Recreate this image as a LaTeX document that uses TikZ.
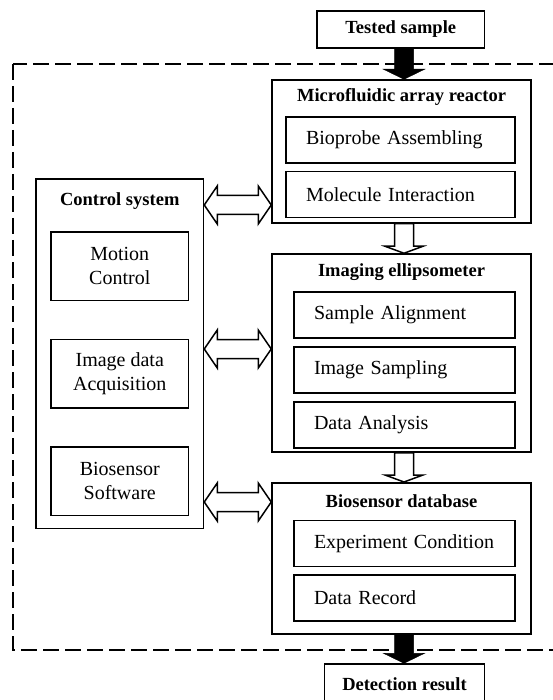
\documentclass[tikz,border=0pt]{standalone}
\usepackage{fontspec}
\setmainfont{Liberation Serif}
\usetikzlibrary{positioning, calc}

\begin{document}
\begin{tikzpicture}[
                x=1pt, y=1pt,
                font=\fontsize{20}{24}\selectfont,
                box/.style={draw, line width=1.5pt, inner sep=0pt},
                outer_box/.style={box, minimum width=259pt},
                sub_box/.style={box, text width=#1, inner xsep=20pt, minimum height=46pt, align=left},
                sub_box/.default=181pt,
                ctrl_box/.style={box, minimum width=137.5pt, minimum height=68.5pt, align=center},
                title_text/.style={font=\bfseries\fontsize{18.5}{22}\selectfont},
                hollow_arrow/.style={draw, fill=white, line width=1.5pt},
                black_arrow/.style={draw, fill=black, line width=0.5pt}
            ]
                \useasboundingbox (0,0) rectangle (553,-700);
                \clip (0,0) rectangle (553,-700);

                % Dashed system frame (right side runs off the page)
                \draw[line width=1.4pt, dash pattern=on 16pt off 6pt] (13,-64) rectangle (600,-650);

                % Input and output
                \node[box, title_text, minimum width=167.5pt, minimum height=37pt] (sample) at (400.7,-29.5) {Tested sample};
                \node[box, title_text, minimum width=160pt, minimum height=40pt] (result) at (404.5,-684) {Detection result};

                % Microfluidic array reactor
                \node[outer_box, minimum height=143pt] (reactor) at (401.5,-151.5) {};
                \node[title_text] at ([yshift=-18pt]reactor.north) {Microfluidic array reactor};
                \node[sub_box=189pt] (bioprobe) at (400.5,-140) {Bioprobe Assembling};
                \node[sub_box=189pt, below=7pt of bioprobe] (molecule) {Molecule Interaction};

                % Imaging ellipsometer
                \node[outer_box, minimum height=198pt] (ellip) at (401.5,-353) {};
                \node[title_text] at ([yshift=-19pt]ellip.north) {Imaging ellipsometer};
                \node[sub_box] (align) at (404.5,-315) {Sample Alignment};
                \node[sub_box, below=7.5pt of align] (imgsamp) {Image Sampling};
                \node[sub_box, below=7.5pt of imgsamp] (analysis) {Data Analysis};

                % Biosensor database
                \node[outer_box, minimum height=151.3pt] (dbase) at (401.5,-558.4) {};
                \node[title_text] at ([yshift=-19pt]dbase.north) {Biosensor database};
                \node[sub_box] (cond) at (404.5,-543.4) {Experiment Condition};
                \node[sub_box, below=7pt of cond] (record) {Data Record};

                % Control system
                \node[box, minimum width=167.5pt, minimum height=349.3pt] (ctrl) at (119.75,-353.6) {};
                \node[title_text] at ([yshift=-22.7pt]ctrl.north) {Control system};
                \node[ctrl_box] (motion) at (119.75,-266.2) {Motion\\Control};
                \node[ctrl_box, below=37.5pt of motion] (imgacq) {Image data\\Acquisition};
                \node[ctrl_box, below=37.5pt of imgacq] (software) {Biosensor\\Software};

                % Flow axis of the right column
                \coordinate (axis) at (404,0);

                % Solid arrows in and out
                \foreach \from/\to in {sample/reactor, dbase/result} {
                    \draw[black_arrow] ($(axis |- \from.south)+(-9.5,0)$) -- ($(axis |- \to.north)+(-9.5,10)$)
                        -- ++(-11,0) -- (axis |- \to.north) -- ++(20.5,10) -- ++(-11,0)
                        -- ($(axis |- \from.south)+(9.5,0)$) -- cycle;
                }

                % Hollow arrows down the column
                \foreach \from/\to in {reactor/ellip, ellip/dbase} {
                    \draw[hollow_arrow] ($(axis |- \from.south)+(-9.5,0)$) -- ($(axis |- \to.north)+(-9.5,7)$)
                        -- ++(-9.5,0) -- (axis |- \to.north) -- ++(19,7) -- ++(-9.5,0)
                        -- ($(axis |- \from.south)+(9.5,0)$) -- cycle;
                }

                % Double arrows to the control system
                \foreach \to/\lev in {reactor/-205, ellip/-349, dbase/-502} {
                    \coordinate (l) at (ctrl.east |- 0,\lev);
                    \coordinate (r) at (\to.west |- 0,\lev);
                    \draw[hollow_arrow] (l) -- ++(13,19) -- ++(0,-9.5) -- ($(r)+(-13,9.5)$) -- ++(0,9.5)
                        -- (r) -- ++(-13,-19) -- ++(0,9.5) -- ($(l)+(13,-9.5)$) -- ++(0,-9.5) -- cycle;
                }

            \end{tikzpicture}
\end{document}
